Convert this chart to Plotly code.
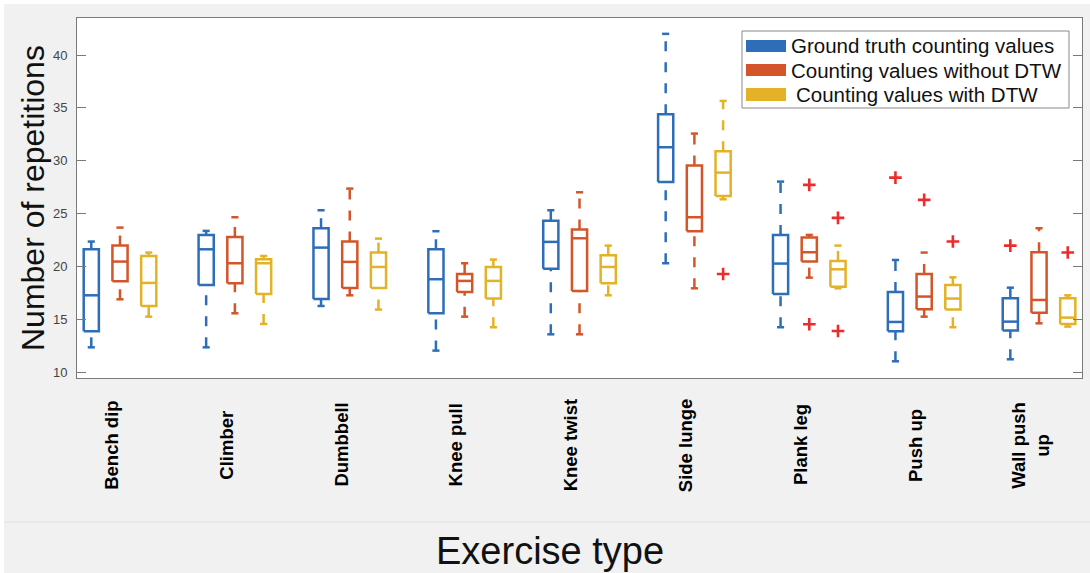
import plotly.graph_objects as go

# ---------------- data ----------------
categories = ["Bench dip", "Climber", "Dumbbell", "Knee pull", "Knee twist",
              "Side lunge", "Plank leg", "Push up", "Wall push<br>up"]

series_names = ["Ground truth counting values",
                "Counting values without DTW",
                "Counting values with DTW"]

gt_low = [12.36, 12.36, 16.27, 12.05, 13.59, 20.31, 14.26, 11.04, 11.23]
gt_q1 = [13.88, 18.26, 16.94, 15.58, 19.80, 28.00, 17.41, 13.88, 13.94]
gt_med = [17.28, 21.63, 21.79, 18.80, 22.33, 31.28, 20.28, 14.76, 14.79]
gt_q3 = [21.63, 22.99, 23.62, 21.63, 24.34, 34.40, 22.99, 17.60, 17.00]
gt_high = [22.36, 23.37, 25.32, 23.34, 25.32, 42.00, 28.03, 20.62, 18.00]
gt_out = [[], [], [], [], [], [], [], [28.41], [21.98]]

nodtw_low = [16.90, 15.58, 17.28, 15.26, 13.59, 17.94, 18.95, 15.26, 14.63]
nodtw_q1 = [18.61, 18.42, 17.98, 17.60, 17.69, 23.34, 20.47, 15.96, 15.64]
nodtw_med = [20.47, 20.31, 20.44, 18.64, 22.67, 24.66, 21.35, 17.16, 16.84]
nodtw_q3 = [21.98, 22.80, 22.36, 19.30, 23.49, 29.55, 22.74, 19.30, 21.35]
nodtw_high = [23.68, 24.66, 27.37, 20.31, 27.02, 32.57, 22.99, 21.32, 23.62]
nodtw_out = [[], [], [], [], [], [], [27.72, 14.54], [26.30], []]

dtw_low = [15.26, 14.57, 15.93, 14.26, 17.28, 26.36, 17.94, 14.26, 14.32]
dtw_q1 = [16.27, 17.41, 17.98, 16.97, 18.42, 26.68, 18.10, 15.93, 14.57]
dtw_med = [18.45, 20.31, 19.96, 18.64, 19.96, 28.88, 19.74, 16.97, 15.17]
dtw_q3 = [21.00, 20.69, 21.32, 19.96, 21.07, 30.90, 20.53, 18.26, 17.00]
dtw_high = [21.32, 21.00, 22.64, 20.66, 21.98, 35.66, 21.98, 18.98, 17.28]
dtw_out = [[], [], [], [], [], [19.30], [24.60, 13.91], [22.36], [21.32]]

y_ticks = [10, 15, 20, 25, 30, 35, 40]

# ---------------- styles ----------------
colors = ["#2E6EB9", "#D4552A", "#E3B226"]
outlier_color = "#EE2B2B"
offsets = [-0.25, 0.0, 0.25]
box_half = 0.066
cap_half = 0.031
FONT = "Liberation Sans, Arial, Helvetica, sans-serif"

series = [
    (gt_low, gt_q1, gt_med, gt_q3, gt_high, gt_out),
    (nodtw_low, nodtw_q1, nodtw_med, nodtw_q3, nodtw_high, nodtw_out),
    (dtw_low, dtw_q1, dtw_med, dtw_q3, dtw_high, dtw_out),
]

fig = go.Figure()

for s, (lo, q1, med, q3, hi, outs) in enumerate(series):
    col = colors[s]
    bx, by = [], []
    wx, wy = [], []
    ox, oy = [], []
    for i in range(len(categories)):
        c = i + 1 + offsets[s]
        # box outline
        bx += [c - box_half, c + box_half, c + box_half, c - box_half, c - box_half, None]
        by += [q1[i], q1[i], q3[i], q3[i], q1[i], None]
        # median
        bx += [c - box_half, c + box_half, None]
        by += [med[i], med[i], None]
        # caps
        bx += [c - cap_half, c + cap_half, None, c - cap_half, c + cap_half, None]
        by += [lo[i], lo[i], None, hi[i], hi[i], None]
        # whiskers (dashed), drawn from lower to higher value
        wx += [c, c, None, c, c, None]
        wy += [lo[i], q1[i], None, q3[i], hi[i], None]
        for v in outs[i]:
            ox.append(c)
            oy.append(v)
    fig.add_trace(go.Scatter(x=wx, y=wy, mode="lines", showlegend=False,
                             line=dict(color=col, width=2.5, dash="10px,11px"),
                             hoverinfo="skip"))
    fig.add_trace(go.Scatter(x=bx, y=by, mode="lines", name=series_names[s],
                             showlegend=False,
                             line=dict(color=col, width=2.5), hoverinfo="skip"))
    if ox:
        fig.add_trace(go.Scatter(x=ox, y=oy, mode="markers", showlegend=False,
                                 marker=dict(symbol="cross-thin", size=9,
                                             line=dict(color=outlier_color, width=2.6)),
                                 hoverinfo="skip"))

# ---------------- layout geometry (pixels) ----------------
W, H = 1090, 573
PL, PR, PT, PB = 77, 1082, 18, 378


def px(xp):
    return (xp - PL) / (PR - PL)


def py(yp):
    return (PB - yp) / (PB - PT)


shapes = []
# white outer strips (top / left)
shapes.append(dict(type="rect", xref="paper", yref="paper", x0=px(0), x1=px(W),
                   y0=py(4), y1=py(0), fillcolor="white", line=dict(width=0), layer="below"))
shapes.append(dict(type="rect", xref="paper", yref="paper", x0=px(0), x1=px(4),
                   y0=py(H), y1=py(0), fillcolor="white", line=dict(width=0), layer="below"))
# faint separator line above x title
shapes.append(dict(type="line", xref="paper", yref="paper", x0=px(4), x1=px(W),
                   y0=py(522), y1=py(522), line=dict(color="#E1E2E1", width=1)))
# legend box
shapes.append(dict(type="rect", xref="paper", yref="paper", x0=px(742), x1=px(1069),
                   y0=py(108), y1=py(31), fillcolor="white",
                   line=dict(color="#8A8A8A", width=1)))
legend_rows = [(40, 52), (64, 76), (88, 101)]
annotations = []
for s, (t, b) in enumerate(legend_rows):
    shapes.append(dict(type="rect", xref="paper", yref="paper", x0=px(746), x1=px(786),
                       y0=py(b), y1=py(t), fillcolor=colors[s], line=dict(width=0)))
    annotations.append(dict(text=series_names[s], xref="paper", yref="paper",
                            x=px(789 if s < 2 else 794), y=py((t + b) / 2),
                            xanchor="left", yanchor="middle", showarrow=False,
                            font=dict(family=FONT, size=20.5, color="#111111")))

# category labels (rotated, centred)
for i, name in enumerate(categories):
    annotations.append(dict(text=name, xref="x", yref="paper", x=i + 1 - 0.08,
                            y=py(445), xanchor="center", yanchor="middle",
                            textangle=-90, showarrow=False, align="center",
                            font=dict(family=FONT, size=18.5, color="#000000", weight="bold")))

# axis titles
annotations.append(dict(text="Number of repetitions", xref="paper", yref="paper",
                        x=px(33), y=py(198), xanchor="center", yanchor="middle",
                        textangle=-90, showarrow=False,
                        font=dict(family=FONT, size=32, color="#111111")))
annotations.append(dict(text="Exercise type", xref="paper", yref="paper",
                        x=px(550), y=py(551), xanchor="center", yanchor="middle",
                        showarrow=False,
                        font=dict(family=FONT, size=38, color="#111111")))

fig.update_layout(
    width=W, height=H, autosize=False,
    margin=dict(l=PL, r=W - PR, t=PT, b=H - PB, pad=0),
    paper_bgcolor="#F0F1F0", plot_bgcolor="white",
    showlegend=False,
    shapes=shapes, annotations=annotations,
    xaxis=dict(range=[0.6257, 9.374], showgrid=False, zeroline=False,
               showticklabels=False, ticks="", showline=True, mirror=True,
               linecolor="#7A7A7A", linewidth=1),
    yaxis=dict(range=[9.46, 43.5], tickvals=y_ticks, showgrid=False, zeroline=False,
               ticks="inside", ticklen=9, tickcolor="#7A7A7A", tickwidth=1,
               showline=True, mirror="ticks", linecolor="#7A7A7A", linewidth=1,
               tickfont=dict(family=FONT, size=13, color="#444444"),
               ticklabelstandoff=6),
)

fig.write_html("out.html")
